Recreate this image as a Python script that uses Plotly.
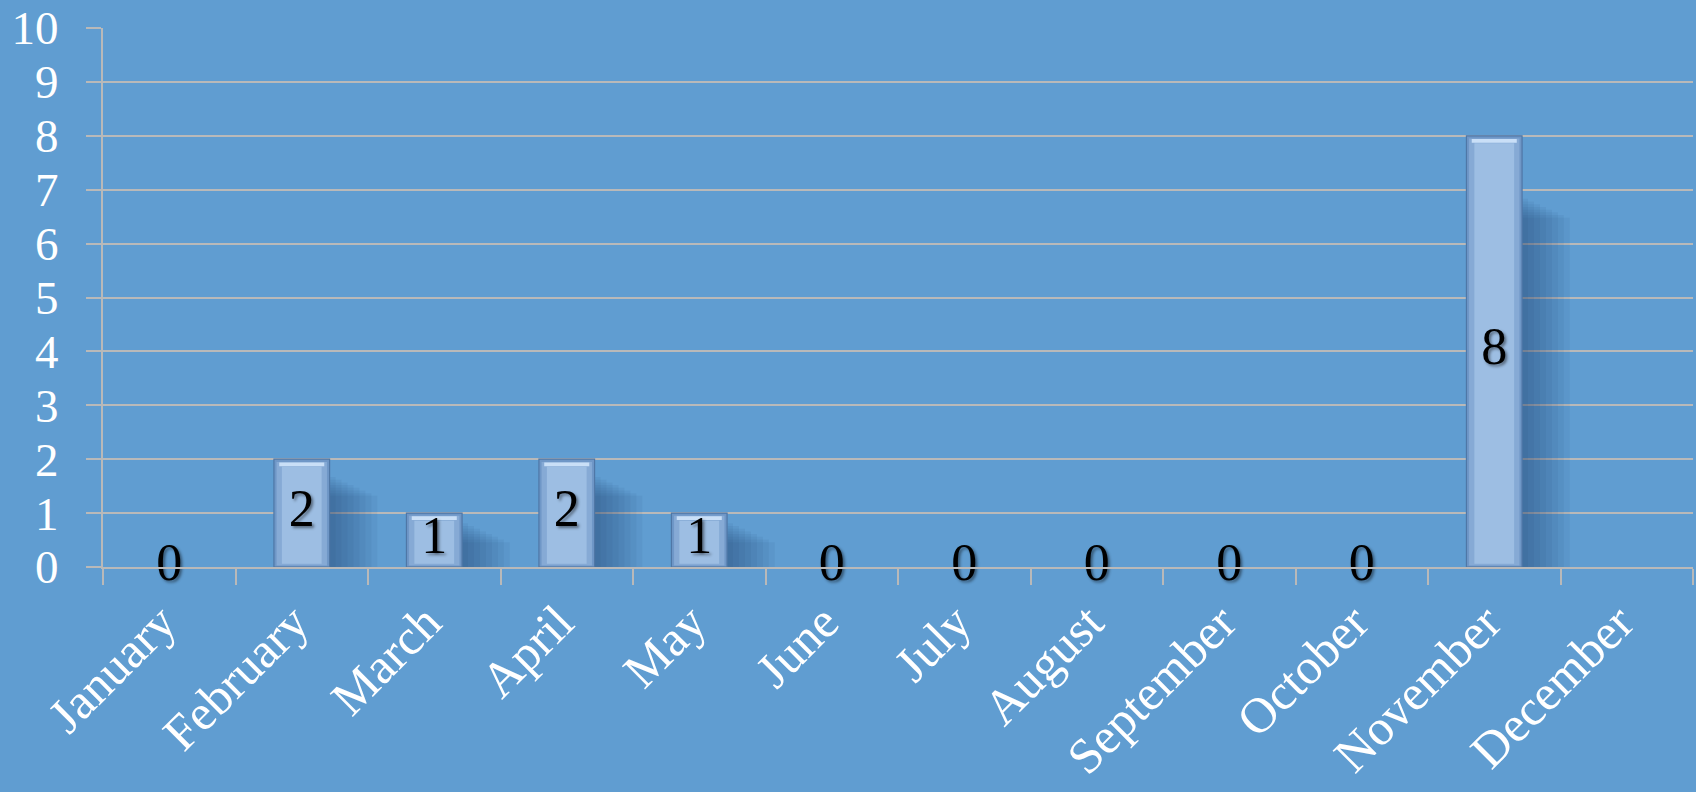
import plotly.graph_objects as go

months = ["January", "February", "March", "April", "May", "June", "July",
          "August", "September", "October", "November", "December"]
counts = [0, 2, 1, 2, 1, 0, 0, 0, 0, 0, 8, None]
labels = ["0", "2", "1", "2", "1", "0", "0", "0", "0", "0", "8", ""]
y_ticks = list(range(0, 11))

BG = "#609dd1"
GRID = "#b9b9b9"
FONT = "Liberation Serif"

vals = [v if v is not None else 0 for v in counts]
pos = [v if v > 0 else None for v in vals]

fig = go.Figure()

# soft shadow to the right of each bar (layered for a blur effect)
for i in range(1, 9):
    fig.add_trace(go.Bar(
        x=months, y=[v * 0.86 - 0.05 * i if v else None for v in pos],
        width=0.045 * i, offset=0.21,
        marker=dict(color="rgba(30,60,100,0.065)", line=dict(width=0)),
        hoverinfo="skip", showlegend=False))

# main bar (outer, darker edge)
fig.add_trace(go.Bar(
    x=months, y=pos, width=0.42,
    marker=dict(color="#6f97c7", line=dict(color="#4f77a6", width=1.2)),
    showlegend=False))

# bevel layers
fig.add_trace(go.Bar(
    x=months, y=[v - 0.08 if v else None for v in pos],
    base=[0.03 if v else None for v in pos], width=0.38,
    marker=dict(color="#86aad5", line=dict(width=0)),
    hoverinfo="skip", showlegend=False))
fig.add_trace(go.Bar(
    x=months, y=[v - 0.2 if v else None for v in pos],
    base=[0.06 if v else None for v in pos], width=0.3,
    marker=dict(color="#9dbee3", line=dict(width=0)),
    hoverinfo="skip", showlegend=False))

# top highlight stripe
fig.add_trace(go.Bar(
    x=months, y=[0.07 if v else None for v in pos],
    base=[v - 0.13 if v else None for v in pos], width=0.34,
    marker=dict(color="#c9dff7", line=dict(width=0)),
    hoverinfo="skip", showlegend=False))

# data labels
fig.add_trace(go.Scatter(
    x=months, y=[v / 2 for v in vals], text=labels, mode="text",
    cliponaxis=False,
    textfont=dict(family=FONT, size=52, color="black",
                  shadow="2px 2px 3px rgba(0,0,0,0.45)"),
    hoverinfo="skip", showlegend=False))

fig.update_layout(
    width=1696, height=792,
    barmode="overlay",
    paper_bgcolor=BG, plot_bgcolor=BG,
    margin=dict(l=103, r=3, t=28, b=225),
    font=dict(family=FONT, color="white", size=44),
)
fig.update_xaxes(
    type="category", categoryorder="array", categoryarray=months,
    range=[-0.5, 11.5], tickson="boundaries", automargin=False,
    ticks="outside", ticklen=16, tickwidth=2, tickcolor=GRID,
    showline=True, linecolor=GRID, linewidth=2,
    showgrid=False, tickangle=-45, ticklabelshift=-8,
    ticklabelstandoff=4,
    tickfont=dict(family=FONT, size=50, color="white"),
)
fig.update_yaxes(
    range=[0, 10], tickvals=y_ticks, ticktext=[str(t) for t in y_ticks],
    automargin=False,
    ticks="outside", ticklen=15, tickwidth=2, tickcolor=GRID,
    showline=True, linecolor=GRID, linewidth=2,
    showgrid=True, gridcolor=GRID, gridwidth=2, zeroline=False,
    tickfont=dict(family=FONT, size=47, color="white"),
    ticklabelstandoff=18,
)

fig.write_html(
    "out.html",
    config={"displayModeBar": False},
    post_script="document.body.style.margin='0';document.body.style.padding='0';"
                "document.body.style.overflow='hidden';",
)
